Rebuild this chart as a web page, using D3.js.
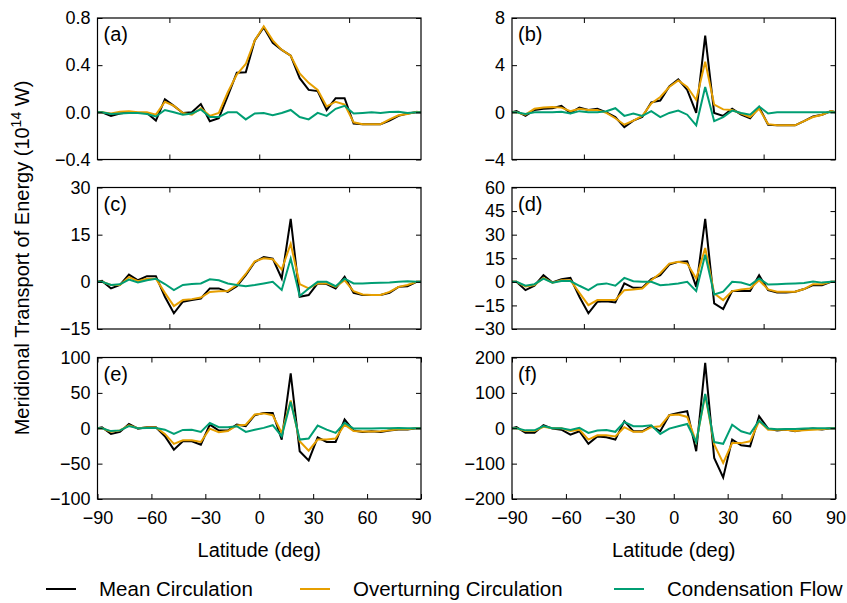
<!DOCTYPE html>
<html>
<head>
<meta charset="utf-8">
<script src="https://cdn.jsdelivr.net/npm/d3@7"></script>
<style>
  body { margin: 0; background: #fff; }
  text { font-family: "Liberation Sans", Arial, sans-serif; fill: #000; }
</style>
</head>
<body>
<svg id="chart"></svg>
<script>
// latitude grid (cell centres, plus the poles)
var lats = [-90, -87.5, -82.5, -77.5, -72.5, -67.5, -62.5, -57.5, -52.5, -47.5, -42.5, -37.5, -32.5, -27.5, -22.5, -17.5, -12.5, -7.5, -2.5,
            2.5, 7.5, 12.5, 17.5, 22.5, 27.5, 32.5, 37.5, 42.5, 47.5, 52.5, 57.5, 62.5, 67.5, 72.5, 77.5, 82.5, 87.5, 90];

// (a)
var meanA = [0, 0, -0.03, -0.01, 0, -0.005, -0.005, -0.07, 0.11, 0.055, -0.005, 0, 0.07, -0.075, -0.05, 0.14, 0.335, 0.34, 0.61,
             0.72, 0.59, 0.53, 0.48, 0.29, 0.19, 0.18, 0.02, 0.12, 0.12, -0.095, -0.10, -0.10, -0.10, -0.07, -0.03, -0.01, 0, 0];
var overA = [0, 0, -0.01, 0.005, 0.01, 0, 0, -0.02, 0.09, 0.055, -0.005, -0.02, 0.035, -0.03, -0.005, 0.17, 0.32, 0.41, 0.61,
             0.73, 0.61, 0.53, 0.48, 0.33, 0.25, 0.19, 0.05, 0.09, 0.065, -0.085, -0.10, -0.10, -0.10, -0.06, -0.025, -0.015, 0.005, 0];
var condA = [0, 0, -0.015, -0.01, -0.005, -0.005, -0.015, -0.035, 0.02, 0, -0.02, -0.01, 0.025, -0.04, -0.04, 0, 0, -0.06, -0.01,
             -0.005, -0.025, -0.005, 0.02, -0.04, -0.06, -0.005, -0.03, 0.03, 0.055, -0.01, -0.005, 0, -0.005, 0.003, 0.005, -0.005, 0, 0];
// (b)
var meanB = [0, 0.1, -0.3, 0.2, 0.3, 0.35, 0.55, -0.05, 0.4, 0.2, 0.3, 0, -0.4, -1.25, -0.7, -0.4, 0.85, 1.0, 2.2,
             2.8, 1.9, -0.05, 6.5, -0.05, -0.3, 0.3, -0.2, -0.5, 0.45, -1.05, -1.1, -1.1, -1.1, -0.75, -0.35, -0.2, 0.1, 0];
var overB = [0, 0, -0.2, 0.3, 0.4, 0.45, 0.4, 0.1, 0.3, 0.2, 0.2, -0.05, -0.5, -1.05, -0.7, -0.3, 0.75, 1.3, 2.15,
             2.7, 2.15, 1.05, 4.3, 0.65, 0.25, 0.2, -0.1, -0.4, 0.3, -1.0, -1.1, -1.1, -1.1, -0.75, -0.4, -0.2, 0.1, 0];
var condB = [0, 0, -0.15, 0, 0, 0, 0.05, -0.1, 0.1, 0, 0, 0.1, 0.35, -0.3, -0.1, -0.3, 0.1, -0.4, -0.05,
             0.15, -0.2, -1.1, 2.15, -0.75, -0.4, 0.15, -0.05, -0.2, 0.5, -0.1, 0, 0, 0, 0, 0, 0, 0, 0];
// (c)
var meanC = [0, 0.3, -2.1, -1.0, 2.3, 0.5, 1.8, 1.8, -4.75, -10, -6.3, -5.8, -5.3, -2.1, -2.1, -3.2, -1.4, 2.1, 6.3,
             7.9, 7.4, 1.05, 20, -4.75, -4.2, -0.5, -0.7, -2.1, 1.6, -3.5, -4.2, -4.2, -4.2, -3.5, -1.6, -1.4, 0, 0];
var overC = [0, 0, -1.0, -1.0, 1.5, 0.2, 1.0, 1.0, -3.5, -7.7, -5.8, -5.5, -5.0, -3.2, -3.0, -2.9, -1.0, 2.5, 6.5,
             7.5, 7.2, 3.9, 12.1, -0.7, -2.1, -0.5, -0.5, -1.6, 0.5, -3.0, -4.0, -4.2, -4.2, -3.2, -1.6, -1.0, 0, 0];
var condC = [0, 0, -1.0, -0.8, 0.7, -0.2, 0.5, 1.0, -0.7, -2.6, -1.0, -0.7, -0.5, 0.8, 0.5, -0.5, -1.0, -1.4, -1.0,
             -0.5, 0, -2.6, 7.4, -4.5, -2.1, 0, 0, -1.4, 1.0, -0.5, -0.5, -0.4, -0.3, -0.2, 0, 0.2, 0, 0];
// (d)
var meanD = [0, 0, -5.3, -2.5, 4.2, -0.4, 1.7, 2.5, -9.5, -20, -12.7, -12.3, -13.1, -1, -3.8, -3.8, 1.7, 4.2, 11,
             12.7, 13.1, -3.2, 40, -13.7, -17.3, -5.9, -5.9, -5.9, 4.2, -5.3, -6.8, -6.8, -6.3, -4.6, -2.1, -2.1, 0, 0];
var overD = [0, 0, -3, -2, 2.5, -0.5, 1, 1, -7, -14.8, -11.6, -11.6, -11.6, -5.3, -4.8, -4.2, 1.0, 5.5, 11.6,
             12.7, 11.6, 2.1, 21.5, -7.4, -11.6, -5.9, -4.8, -4.2, 1.0, -4.8, -6.3, -6.3, -6.3, -4.6, -1.5, -1.5, 0, 0];
var condD = [0, 0, -2.5, -1.5, 2, -0.5, 0.5, 0.5, -2.5, -5.3, -1.7, -1.0, -2.5, 2.5, 0.4, 0, 0, -2.1, -1.7,
             -1.0, 0, -5.9, 17.3, -8.0, -6.3, 0, -0.4, -2.1, 2.1, -1.7, -1.5, -1.2, -1.0, -0.8, 0.2, -0.5, 0, 0];
// (e)
var meanE = [0, 1.4, -8, -5.2, 6.1, -0.5, 1.4, 1.4, -11.3, -30.2, -18.4, -18.4, -23.2, 5.2, -3.3, -3.3, 5.2, 2.8, 18.4,
             21.7, 21.7, -16, 77.5, -32.6, -45.4, -12.8, -19.4, -19.4, 12.3, -3.3, -5.2, -4.3, -5.2, -3.3, -1.9, -1.9, 0, 0];
var overE = [0, 0, -5, -3, 4, 0, 1, 1, -8, -22, -17, -17, -19.4, -0.5, -5.5, -4, 4, 5, 19.4,
             21, 18.4, -6.6, 39.2, -18.4, -31.7, -16, -16, -14.6, 5.2, -4, -4.5, -4.5, -4.3, -3, -1.5, -1.5, 0, 0];
var condE = [0, 0, -4, -3, 3, 0, 0.5, 0.5, -2, -8, -2.4, -2, -5.2, 7.6, 1.4, 1.4, 2.8, -5.2, -2,
             0.5, 4.3, -11.3, 37.3, -16, -14.6, 3.8, -2, -6.6, 7.6, -0.5, -0.5, -0.3, 0, 0, 0.5, 0, 0, 0];
// (f)
var meanF = [0, 3, -13, -13, 8.5, -1, -4, -18, -8.5, -44, -23, -25.5, -32, 20, -8.5, -8.5, 5.7, -8.5, 37,
             43.5, 48, -65, 185, -84, -139, -32, -48, -51, 34, -1, -6.6, -3.8, -8.5, -3.8, -1, -3.8, 0, 0];
var overF = [0, 0, -8, -8, 4, 0, 0, -8, -4, -32, -20, -20, -23, 3, -10, -10, 3, 5.7, 37,
             39, 32, -39, 95, -46, -98, -42, -42, -37, 20, -4, -4, -4, -8, -6, -4, -3, 0, 0];
var condF = [0, 0, -6, -6, 6, 0, 0, -5, 1, -13, -6.6, -5, -10, 18, 5.7, 5.7, 8.5, -16, -1,
             5.7, 12, -39, 97, -39, -44, 10, -8.5, -16, 22, -1, -3, -2, -2, -1, 0, 0, 0, 0];

// axis ranges and ticks
var yDomains = [[-0.4, 0.8], [-4, 8], [-15, 30], [-30, 60], [-100, 100], [-200, 200]];
var yTicks = [[-0.4, 0, 0.4, 0.8], [-4, 0, 4, 8], [-15, 0, 15, 30], [-30, -15, 0, 15, 30, 45, 60],
              [-100, -50, 0, 50, 100], [-200, -100, 0, 100, 200]];
var panelLabels = ["(a)", "(b)", "(c)", "(d)", "(e)", "(f)"];
var xTicksTop = [-50, 0, 50];
var xTicksBottom = [-90, -60, -30, 0, 30, 60, 90];

var seriesNames = ["Mean Circulation", "Overturning Circulation", "Condensation Flow"];
var colors = ["#000000", "#E69F00", "#009E73"];

var panelData = [
  [meanA, overA, condA], [meanB, overB, condB], [meanC, overC, condC],
  [meanD, overD, condD], [meanE, overE, condE], [meanF, overF, condF]
];

var W = 847, H = 603;
var colX = [97.5, 512];
var rowY = [18, 187.5, 357.5];
var pw = 323.5, ph = 141.5;

var svg = d3.select("#chart").attr("width", W).attr("height", H);
svg.append("rect").attr("width", W).attr("height", H).attr("fill", "#fff");

var xScale = d3.scaleLinear().domain([-90, 90]).range([0, pw]);

panelData.forEach(function(series, p) {
  var col = p % 2, row = Math.floor(p / 2);
  var g = svg.append("g").attr("transform", "translate(" + colX[col] + "," + rowY[row] + ")");
  var yScale = d3.scaleLinear().domain(yDomains[p]).range([ph, 0]);
  var fmt = p == 0 ? d3.format(".1f") : d3.format("d");
  var bottom = row == 2;

  // lines
  var line = d3.line()
    .x(function(d, i) { return xScale(lats[i]); })
    .y(function(d) { return yScale(d); });
  series.forEach(function(vals, s) {
    g.append("path")
      .datum(vals)
      .attr("d", line)
      .attr("fill", "none")
      .attr("stroke", colors[s])
      .attr("stroke-width", 2);
  });

  // axes, ticks pointing inward
  var left = g.append("g").call(d3.axisLeft(yScale).tickValues(yTicks[p]).tickFormat(fmt)
    .tickSizeInner(-5).tickSizeOuter(0).tickPadding(7));
  var right = g.append("g").attr("transform", "translate(" + pw + ",0)")
    .call(d3.axisRight(yScale).tickValues(yTicks[p]).tickFormat("").tickSizeInner(-5).tickSizeOuter(0));
  var top = g.append("g")
    .call(d3.axisTop(xScale).tickValues(bottom ? xTicksBottom : xTicksTop).tickFormat("").tickSizeInner(-5).tickSizeOuter(0));
  var bot = g.append("g").attr("transform", "translate(0," + ph + ")")
    .call(d3.axisBottom(xScale).tickValues(bottom ? xTicksBottom : xTicksTop)
      .tickFormat(bottom ? d3.format("d") : "").tickSizeInner(-5).tickSizeOuter(0).tickPadding(12));

  [left, right, top, bot].forEach(function(a) {
    a.select(".domain").remove();
    a.selectAll("line").attr("stroke", "#000").attr("stroke-width", 1);
    a.selectAll("text").style("font-size", "18px").attr("fill", "#000");
  });

  // frame
  g.append("rect")
    .attr("width", pw).attr("height", ph)
    .attr("fill", "none").attr("stroke", "#000").attr("stroke-width", 1.2);

  g.append("text")
    .attr("x", 6).attr("y", 23)
    .style("font-size", "20px")
    .text(panelLabels[p]);

  if (bottom) {
    g.append("text")
      .attr("x", pw / 2).attr("y", ph + 58)
      .attr("text-anchor", "middle")
      .style("font-size", "20px")
      .text("Latitude (deg)");
  }
});

// y axis label
var ylab = svg.append("text")
  .attr("transform", "translate(29,258) rotate(-90)")
  .attr("text-anchor", "middle")
  .style("font-size", "20px");
ylab.append("tspan").text("Meridional Transport of Energy (10");
ylab.append("tspan").attr("dy", -8).style("font-size", "14px").text("14");
ylab.append("tspan").attr("dy", 8).text(" W)");

// legend
var legX = [46, 300, 614];
var legend = svg.append("g").attr("transform", "translate(0,589)");
seriesNames.forEach(function(name, i) {
  legend.append("line")
    .attr("x1", legX[i]).attr("x2", legX[i] + 30)
    .attr("y1", 0).attr("y2", 0)
    .attr("stroke", colors[i]).attr("stroke-width", 2);
  legend.append("text")
    .attr("x", legX[i] + 53).attr("y", 7)
    .style("font-size", "20.5px")
    .text(name);
});
</script>
</body>
</html>
